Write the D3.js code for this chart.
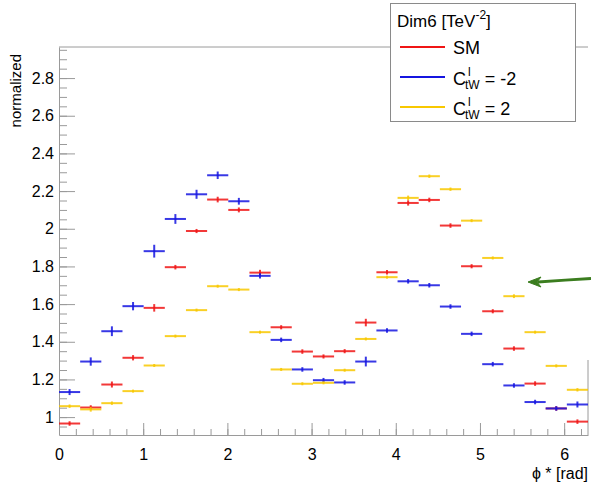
<!DOCTYPE html>
<html>
<head>
<meta charset="utf-8">
<script src="https://cdn.jsdelivr.net/npm/d3@7"></script>
<style>
  body { margin: 0; background: #fff; }
  svg { display: block; font-family: "Liberation Sans", Arial, Helvetica, sans-serif; }
</style>
</head>
<body>
<svg id="chart" width="591" height="483"></svg>
<script>
// ---- data ----
const nBins = 25;
const binCenters = d3.range(nBins).map(i => (i + 0.5) * 2 * Math.PI / nBins);
const smValues = [0.966, 1.051, 1.173, 1.315, 1.580, 1.796, 1.988, 2.155, 2.100, 1.767, 1.477, 1.348, 1.322, 1.350, 1.502, 1.769, 2.137, 2.153, 2.017, 1.801, 1.562, 1.364, 1.178, 1.046, 0.976];
const smErrors = [0.012, 0.012, 0.016, 0.014, 0.02, 0.012, 0.011, 0.015, 0.013, 0.015, 0.011, 0.012, 0.011, 0.011, 0.02, 0.012, 0.014, 0.012, 0.012, 0.011, 0.011, 0.012, 0.012, 0.012, 0.012];
const cmValues = [1.133, 1.295, 1.456, 1.589, 1.881, 2.052, 2.183, 2.284, 2.146, 1.750, 1.410, 1.253, 1.196, 1.184, 1.295, 1.460, 1.721, 1.700, 1.587, 1.442, 1.281, 1.168, 1.080, 1.046, 1.067];
const cmErrors = [0.016, 0.022, 0.026, 0.022, 0.034, 0.026, 0.024, 0.02, 0.018, 0.014, 0.012, 0.012, 0.012, 0.012, 0.026, 0.012, 0.012, 0.012, 0.012, 0.012, 0.012, 0.012, 0.012, 0.012, 0.016];
const cpValues = [1.058, 1.041, 1.074, 1.138, 1.274, 1.430, 1.568, 1.695, 1.677, 1.451, 1.253, 1.177, 1.182, 1.249, 1.415, 1.743, 2.164, 2.279, 2.210, 2.043, 1.845, 1.642, 1.451, 1.272, 1.145];
const cpErrors = [0.009, 0.012, 0.009, 0.008, 0.008, 0.008, 0.008, 0.008, 0.008, 0.008, 0.008, 0.008, 0.008, 0.008, 0.008, 0.008, 0.012, 0.009, 0.009, 0.008, 0.008, 0.01, 0.008, 0.008, 0.009];
const xTicks = [0, 1, 2, 3, 4, 5, 6];
const yTicks = [1, 1.2, 1.4, 1.6, 1.8, 2, 2.2, 2.4, 2.6, 2.8];

const series = [
  { name: "SM", values: smValues, errors: smErrors, color: "#f01515" },
  { name: "m2", values: cmValues, errors: cmErrors, color: "#1515e0" },
  { name: "p2", values: cpValues, errors: cpErrors, color: "#f8c800" }
];

const svg = d3.select("#chart");
const L = 59, R = 588, T = 47, B = 435;
const x = d3.scaleLinear().domain([0, 2 * Math.PI]).range([L, R]);
const y = d3.scaleLinear().domain([0.905, 2.965]).range([B, T]);
const axisColor = "#9a9a9a";
const binW = 2 * Math.PI / nBins;

// frame
svg.append("line").attr("x1", L).attr("x2", R).attr("y1", T).attr("y2", T).attr("stroke", axisColor);
svg.append("line").attr("x1", R).attr("x2", R).attr("y1", 360).attr("y2", B).attr("stroke", axisColor);

// y axis
const yMinor = d3.range(0.95, 2.96, 0.05).map(v => +v.toFixed(2));
svg.append("g").attr("transform", `translate(${L},0)`)
  .call(d3.axisLeft(y).tickValues(yMinor).tickSizeInner(-8).tickSizeOuter(0).tickFormat(""))
  .call(g => g.selectAll("line").attr("stroke", axisColor))
  .call(g => g.select(".domain").attr("stroke", axisColor));
svg.append("g").attr("transform", `translate(${L},0)`)
  .call(d3.axisLeft(y).tickValues(yTicks).tickSizeInner(-16).tickSizeOuter(0).tickPadding(5).tickFormat(d3.format("~g")))
  .call(g => g.select(".domain").remove())
  .call(g => g.selectAll("line").attr("stroke", axisColor))
  .call(g => g.selectAll("text").attr("font-size", 16).attr("fill", "#000").attr("font-family", "Liberation Sans, Arial, sans-serif"));

// x axis
const xMinor = d3.range(0, 6.3, 0.2).map(v => +v.toFixed(1));
svg.append("g").attr("transform", `translate(0,${B})`)
  .call(d3.axisBottom(x).tickValues(xMinor).tickSizeInner(-6).tickSizeOuter(0).tickFormat(""))
  .call(g => g.selectAll("line").attr("stroke", axisColor))
  .call(g => g.select(".domain").attr("stroke", axisColor));
svg.append("g").attr("transform", `translate(0,${B})`)
  .call(d3.axisBottom(x).tickValues(xTicks).tickSizeInner(-12).tickSizeOuter(0).tickPadding(14).tickFormat(d3.format("d")))
  .call(g => g.select(".domain").remove())
  .call(g => g.selectAll("line").attr("stroke", axisColor))
  .call(g => g.selectAll("text").attr("font-size", 16).attr("fill", "#000").attr("font-family", "Liberation Sans, Arial, sans-serif"));

// axis titles
svg.append("text").attr("transform", "translate(21,54) rotate(-90)")
  .attr("text-anchor", "end").attr("font-size", 15).text("normalized");
svg.append("text").attr("x", R).attr("y", 479).attr("text-anchor", "end").attr("font-size", 16).text("ϕ * [rad]");

// data marks
series.forEach(s => {
  const g = svg.append("g").attr("stroke", s.color).attr("stroke-width", 2).attr("stroke-opacity", 0.85);
  s.values.forEach((v, i) => {
    const c = binCenters[i];
    g.append("line").attr("x1", x(c - binW / 2)).attr("x2", x(c + binW / 2))
      .attr("y1", y(v)).attr("y2", y(v));
    g.append("line").attr("x1", x(c)).attr("x2", x(c))
      .attr("y1", y(v - s.errors[i])).attr("y2", y(v + s.errors[i]));
  });
});

// legend
const lg = svg.append("g");
lg.append("rect").attr("x", 390.5).attr("y", 3.5).attr("width", 185).attr("height", 118)
  .attr("fill", "#fff").attr("stroke", "#8a8a8a");
const title = lg.append("text").attr("x", 397).attr("y", 27).attr("font-size", 17);
title.append("tspan").text("Dim6 [TeV");
title.append("tspan").attr("font-size", 12).attr("dy", -8).text("-2");
title.append("tspan").attr("dy", 8).text("]");

const entryY = [47, 77, 107];
series.forEach((s, i) => {
  lg.append("line").attr("x1", 400).attr("x2", 445).attr("y1", entryY[i]).attr("y2", entryY[i])
    .attr("stroke", s.color).attr("stroke-width", 2);
});
lg.append("text").attr("x", 453).attr("y", entryY[0] + 7).attr("font-size", 18).text("SM");
[["= -2", 1], ["= 2", 2]].forEach(([rhs, i]) => {
  const base = entryY[i] + 8;
  const c = lg.append("text").attr("x", 453).attr("y", base).attr("font-size", 18).text("C");
  const cw = c.node().getComputedTextLength();
  lg.append("text").attr("x", 453 + cw + 2).attr("y", base - 9).attr("font-size", 12).text("l");
  const sub = lg.append("text").attr("x", 453 + cw - 1).attr("y", base + 4).attr("font-size", 12).text("tW");
  const sw = sub.node().getComputedTextLength();
  lg.append("text").attr("x", 453 + cw - 1 + sw + 5).attr("y", base).attr("font-size", 18).text(rhs);
});

// annotation arrow
svg.append("path").attr("d", "M591,278.5 Q566,280 538,282")
  .attr("fill", "none").attr("stroke", "#3b7d1f").attr("stroke-width", 3);
svg.append("path").attr("d", "M528,282 L541,277 L537,282 L541,287 Z")
  .attr("fill", "#3b7d1f").attr("stroke", "#3b7d1f").attr("stroke-width", 1);
</script>
</body>
</html>
